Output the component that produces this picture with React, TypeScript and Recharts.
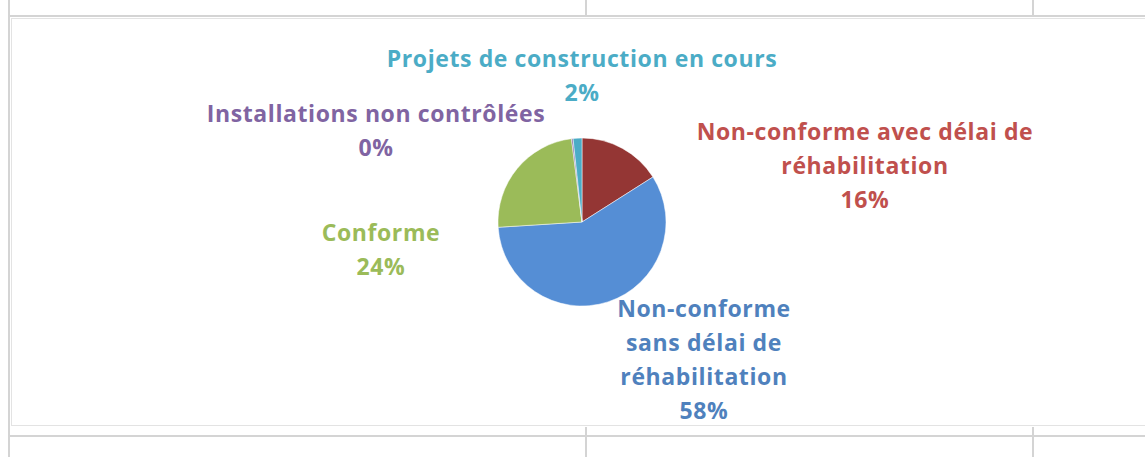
import { Cell, Pie, PieChart } from "recharts";

const CATEGORIES = [
  "Non-conforme avec délai de réhabilitation",
  "Non-conforme sans délai de réhabilitation",
  "Conforme",
  "Installations non contrôlées",
  "Projets de construction en cours"
];
const VALUES = [16, 58, 24, 0.3, 1.7];
const LABEL_LINES = [
  ["Non-conforme avec délai de", "réhabilitation"],
  ["Non-conforme", "sans délai de", "réhabilitation"],
  ["Conforme"],
  ["Installations non contrôlées"],
  ["Projets de construction en cours"]
];

const SLICE_COLORS = ["#943634", "#558ed5", "#9bbb59", "#8064a2", "#4bacc6"];
const LABEL_COLORS = ["#c0504d", "#4f81bd", "#9bbb59", "#8064a2", "#4bacc6"];
// label anchor (centre x, first baseline y) relative to the pie centre
const LABEL_POS = [
  { dx: 283, dy: -82 },
  { dx: 122, dy: 95 },
  { dx: -201, dy: 19 },
  { dx: -206, dy: -100 },
  { dx: 0, dy: -155 }
];
const LINE_H = 34;

const data = CATEGORIES.map((name, i) => ({ name, value: VALUES[i] }));

function renderLabel(props: any) {
  const { cx, cy, index, percent } = props;
  const pos = LABEL_POS[index];
  const lines = [...LABEL_LINES[index], `${Math.round(percent * 100)}%`];
  return (
    <text
      x={cx + pos.dx}
      y={cy + pos.dy}
      fill={LABEL_COLORS[index]}
      textAnchor="middle"
      fontFamily="'Open Sans', sans-serif"
      fontWeight={700}
      fontSize={23}
      letterSpacing={0.6}
    >
      {lines.map((l, i) => (
        <tspan key={i} x={cx + pos.dx} dy={i === 0 ? 0 : LINE_H}>
          {l}
        </tspan>
      ))}
    </text>
  );
}

export default function App() {
  return (
    <div style={{ position: "relative", width: 1145, height: 457, background: "#fff" }}>
      <style>{"body{margin:0}"}</style>
      <svg width={1145} height={457} style={{ position: "absolute", left: 0, top: 0 }}>
        <line x1={9} y1={0} x2={9} y2={457} stroke="#d4d4d4" strokeWidth={2} />
        <line x1={10} y1={16} x2={1145} y2={16} stroke="#d4d4d4" strokeWidth={2} />
        <line x1={10} y1={436} x2={1145} y2={436} stroke="#d4d4d4" strokeWidth={2} />
        <line x1={586} y1={0} x2={586} y2={16} stroke="#d4d4d4" strokeWidth={2} />
        <line x1={1033} y1={0} x2={1033} y2={16} stroke="#d4d4d4" strokeWidth={2} />
        <line x1={586} y1={427} x2={586} y2={457} stroke="#d4d4d4" strokeWidth={2} />
        <line x1={1033} y1={427} x2={1033} y2={457} stroke="#d4d4d4" strokeWidth={2} />
        <rect x={11.5} y={18.5} width={1140} height={407} fill="#fff" stroke="#e3e3e3" strokeWidth={1} />
      </svg>
      <div style={{ position: "absolute", left: 0, top: 0 }}>
        <PieChart width={1145} height={457} margin={{ top: 0, right: 0, bottom: 0, left: 0 }}>
          <Pie
            data={data}
            dataKey="value"
            nameKey="name"
            cx={582}
            cy={222}
            outerRadius={84}
            startAngle={90}
            endAngle={-270}
            stroke="#ffffff"
            strokeWidth={0.5}
            label={renderLabel}
            labelLine={false}
            isAnimationActive={false}
          >
            {data.map((d, i) => (
              <Cell key={d.name} fill={SLICE_COLORS[i]} />
            ))}
          </Pie>
        </PieChart>
      </div>
    </div>
  );
}
